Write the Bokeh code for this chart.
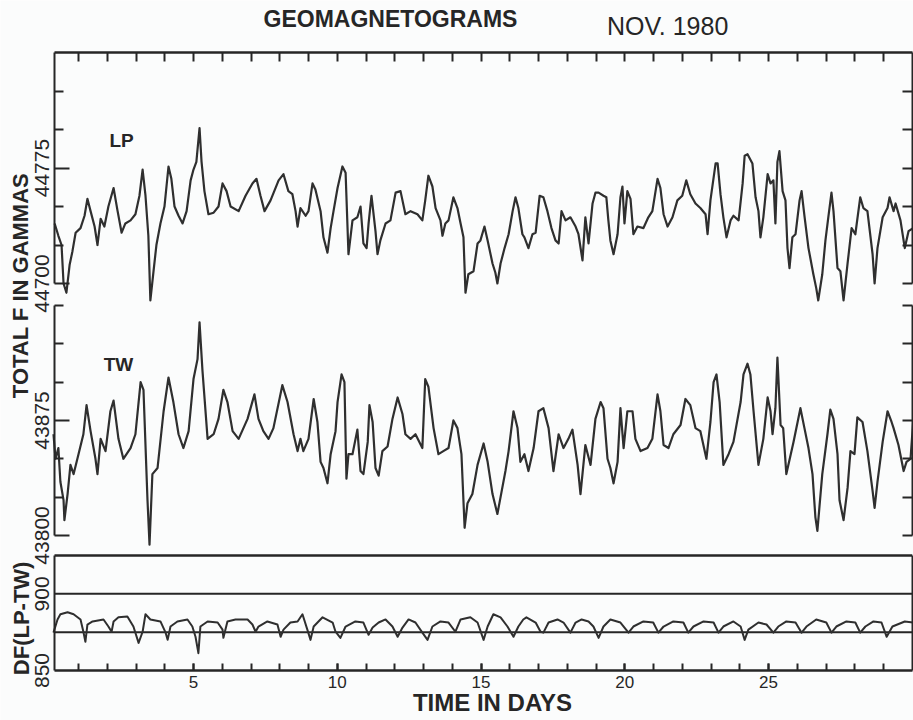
import math
from bokeh.plotting import figure
from bokeh.models import Range1d, LinearAxis, FixedTicker, Label
from bokeh.embed import file_html
from bokeh.resources import INLINE

# ---------------- data (Nov. 1980) ----------------
LP_DAY = [0.17, 0.30, 0.41, 0.48, 0.58, 0.69, 0.79, 0.90, 1.07, 1.21,
          1.31, 1.42, 1.56, 1.66, 1.77, 1.90, 2.04, 2.22, 2.36, 2.50,
          2.63, 2.81, 2.98, 3.12, 3.23, 3.33, 3.43, 3.50, 3.61, 3.71,
          3.85, 3.99, 4.13, 4.23, 4.34, 4.48, 4.62, 4.76, 4.90, 5.00,
          5.10, 5.21, 5.28, 5.38, 5.52, 5.70, 5.87, 6.01, 6.15, 6.29,
          6.57, 6.81, 7.05, 7.19, 7.33, 7.47, 7.68, 7.96, 8.13, 8.30,
          8.44, 8.55, 8.62, 8.72, 8.90, 9.00, 9.14, 9.24, 9.42, 9.52,
          9.66, 9.77, 9.87, 10.01, 10.18, 10.29, 10.39, 10.53, 10.70, 10.81,
          10.91, 11.02, 11.09, 11.19, 11.33, 11.40, 11.50, 11.68, 11.85, 12.03,
          12.20, 12.37, 12.55, 12.79, 12.96, 13.06, 13.17, 13.31, 13.42, 13.59,
          13.66, 13.76, 13.87, 14.04, 14.18, 14.29, 14.39, 14.46, 14.56, 14.74,
          14.88, 14.98, 15.12, 15.23, 15.40, 15.50, 15.57, 15.68, 15.82, 15.96,
          16.10, 16.20, 16.30, 16.44, 16.51, 16.65, 16.79, 16.90, 17.04, 17.17,
          17.31, 17.45, 17.59, 17.70, 17.80, 17.94, 18.11, 18.29, 18.39, 18.53,
          18.63, 18.74, 18.88, 18.98, 19.09, 19.26, 19.36, 19.43, 19.50, 19.61,
          19.75, 19.85, 19.92, 19.99, 20.09, 20.20, 20.30, 20.44, 20.65, 20.82,
          20.96, 21.14, 21.24, 21.35, 21.49, 21.66, 21.83, 22.00, 22.14, 22.28,
          22.46, 22.63, 22.81, 22.88, 22.98, 23.16, 23.23, 23.33, 23.43, 23.54,
          23.68, 23.78, 23.96, 24.10, 24.17, 24.27, 24.44, 24.55, 24.65, 24.72,
          24.82, 24.97, 25.07, 25.17, 25.24, 25.31, 25.38, 25.49, 25.59, 25.66,
          25.73, 25.83, 25.94, 26.08, 26.15, 26.25, 26.39, 26.56, 26.66, 26.73,
          26.87, 26.98, 27.08, 27.19, 27.26, 27.40, 27.50, 27.61, 27.75, 27.89,
          28.02, 28.19, 28.30, 28.44, 28.62, 28.69, 28.79, 28.97, 29.14, 29.21,
          29.35, 29.42, 29.59, 29.74, 29.87, 30.03]
LP_F = [44739, 44731, 44725, 44700, 44694, 44712, 44721, 44733, 44736, 44744,
        44755, 44747, 44737, 44725, 44742, 44737, 44750, 44762, 44747, 44733,
        44739, 44741, 44745, 44757, 44774, 44757, 44731, 44689, 44708, 44725,
        44739, 44750, 44776, 44768, 44750, 44744, 44739, 44747, 44767, 44774,
        44779, 44801, 44779, 44760, 44745, 44746, 44750, 44765, 44760, 44750,
        44747, 44757, 44765, 44768, 44757, 44747, 44754, 44767, 44771, 44760,
        44758, 44747, 44737, 44749, 44744, 44747, 44765, 44761, 44747, 44730,
        44720, 44736, 44747, 44762, 44776, 44772, 44719, 44741, 44743, 44750,
        44726, 44723, 44739, 44757, 44734, 44719, 44728, 44739, 44741, 44759,
        44760, 44745, 44747, 44745, 44741, 44754, 44770, 44763, 44749, 44741,
        44731, 44739, 44741, 44756, 44749, 44739, 44730, 44694, 44706, 44708,
        44726, 44728, 44737, 44728, 44713, 44707, 44700, 44713, 44723, 44732,
        44747, 44756, 44749, 44732, 44730, 44723, 44732, 44733, 44757, 44756,
        44747, 44736, 44728, 44726, 44747, 44741, 44743, 44737, 44732, 44715,
        44743, 44726, 44752, 44759, 44759, 44757, 44756, 44741, 44728, 44719,
        44732, 44756, 44763, 44739, 44760, 44755, 44732, 44737, 44736, 44743,
        44747, 44768, 44762, 44745, 44737, 44743, 44754, 44757, 44767, 44758,
        44752, 44749, 44745, 44732, 44754, 44778, 44778, 44758, 44743, 44730,
        44741, 44744, 44741, 44765, 44783, 44784, 44778, 44756, 44747, 44730,
        44743, 44771, 44765, 44767, 44739, 44779, 44786, 44760, 44754, 44723,
        44710, 44730, 44732, 44754, 44760, 44744, 44723, 44706, 44697, 44689,
        44706, 44728, 44743, 44759, 44747, 44710, 44708, 44689, 44713, 44736,
        44732, 44756, 44749, 44747, 44719, 44700, 44723, 44743, 44749, 44756,
        44747, 44752, 44741, 44723, 44734, 44736]

TW_DAY = [0.13, 0.20, 0.30, 0.37, 0.48, 0.51, 0.62, 0.72, 0.83, 1.00,
          1.17, 1.28, 1.42, 1.59, 1.66, 1.77, 1.94, 2.11, 2.22, 2.39,
          2.56, 2.81, 2.98, 3.16, 3.26, 3.40, 3.47, 3.57, 3.75, 3.96,
          4.13, 4.30, 4.48, 4.65, 4.83, 5.00, 5.14, 5.21, 5.31, 5.49,
          5.70, 5.87, 6.04, 6.18, 6.36, 6.57, 6.88, 7.12, 7.26, 7.43,
          7.61, 7.78, 8.09, 8.27, 8.48, 8.62, 8.72, 8.82, 9.00, 9.18,
          9.31, 9.42, 9.52, 9.66, 9.77, 9.94, 10.01, 10.15, 10.25, 10.32,
          10.39, 10.53, 10.70, 10.81, 10.91, 11.06, 11.12, 11.23, 11.33, 11.44,
          11.57, 11.75, 11.92, 12.10, 12.27, 12.37, 12.55, 12.72, 12.96, 13.06,
          13.17, 13.35, 13.52, 13.69, 13.87, 14.04, 14.18, 14.32, 14.43, 14.53,
          14.70, 14.88, 15.09, 15.23, 15.40, 15.57, 15.68, 15.85, 15.96, 16.13,
          16.27, 16.37, 16.51, 16.65, 16.83, 17.00, 17.17, 17.35, 17.52, 17.70,
          17.87, 18.04, 18.18, 18.36, 18.46, 18.63, 18.81, 18.98, 19.16, 19.26,
          19.40, 19.50, 19.61, 19.75, 19.85, 19.96, 20.09, 20.27, 20.37, 20.55,
          20.79, 20.96, 21.14, 21.24, 21.35, 21.52, 21.69, 21.94, 22.11, 22.28,
          22.46, 22.63, 22.84, 22.98, 23.09, 23.19, 23.30, 23.43, 23.61, 23.78,
          24.03, 24.13, 24.27, 24.37, 24.48, 24.65, 24.82, 24.97, 25.07, 25.14,
          25.24, 25.31, 25.42, 25.51, 25.62, 25.69, 25.87, 26.11, 26.25, 26.39,
          26.53, 26.63, 26.70, 26.87, 27.05, 27.15, 27.26, 27.40, 27.47, 27.61,
          27.75, 27.85, 27.99, 28.09, 28.27, 28.44, 28.62, 28.69, 28.79, 28.97,
          29.14, 29.28, 29.35, 29.52, 29.70, 29.80, 29.94, 30.05]
TW_F = [43866, 43850, 43857, 43835, 43823, 43810, 43827, 43846, 43840, 43853,
        43866, 43885, 43868, 43850, 43840, 43863, 43855, 43881, 43888, 43863,
        43850, 43857, 43866, 43900, 43895, 43823, 43794, 43840, 43844, 43881,
        43903, 43887, 43866, 43857, 43868, 43902, 43915, 43939, 43908, 43863,
        43866, 43876, 43895, 43887, 43868, 43863, 43876, 43892, 43876, 43868,
        43863, 43870, 43898, 43887, 43866, 43855, 43863, 43855, 43863, 43889,
        43874, 43848, 43844, 43834, 43853, 43868, 43887, 43905, 43900, 43837,
        43853, 43853, 43869, 43842, 43840, 43861, 43885, 43874, 43844, 43839,
        43855, 43858, 43876, 43890, 43879, 43866, 43863, 43866, 43857, 43902,
        43897, 43870, 43853, 43855, 43857, 43875, 43870, 43853, 43805, 43821,
        43827, 43846, 43860, 43848, 43827, 43814, 43825, 43842, 43855, 43881,
        43870, 43848, 43853, 43842, 43857, 43881, 43883, 43870, 43842, 43866,
        43857, 43863, 43869, 43846, 43827, 43859, 43846, 43876, 43887, 43883,
        43850, 43844, 43834, 43848, 43883, 43857, 43881, 43881, 43863, 43855,
        43857, 43863, 43892, 43881, 43859, 43857, 43866, 43872, 43889, 43885,
        43870, 43868, 43850, 43874, 43900, 43905, 43887, 43846, 43853, 43861,
        43887, 43905, 43912, 43905, 43881, 43846, 43863, 43890, 43881, 43866,
        43883, 43916, 43872, 43870, 43840, 43846, 43861, 43883, 43870, 43857,
        43840, 43812, 43803, 43840, 43866, 43882, 43876, 43853, 43823, 43810,
        43831, 43855, 43853, 43877, 43874, 43855, 43829, 43818, 43835, 43861,
        43881, 43874, 43870, 43859, 43842, 43848, 43850, 43879]

DF_DAY = [0.13, 0.27, 0.37, 0.62, 0.83, 1.07, 1.17, 1.24, 1.31, 1.49,
          1.87, 2.04, 2.15, 2.22, 2.39, 2.70, 2.91, 3.09, 3.23, 3.33,
          3.50, 3.85, 4.03, 4.10, 4.20, 4.44, 4.79, 4.96, 5.07, 5.17,
          5.24, 5.49, 5.84, 6.01, 6.04, 6.18, 6.46, 6.88, 7.05, 7.16,
          7.26, 7.57, 7.92, 8.03, 8.13, 8.37, 8.62, 8.79, 8.96, 9.07,
          9.18, 9.49, 9.84, 9.94, 10.11, 10.29, 10.63, 10.91, 11.09, 11.23,
          11.44, 11.68, 11.92, 12.10, 12.27, 12.48, 12.72, 12.96, 13.14, 13.31,
          13.59, 13.87, 14.11, 14.29, 14.63, 14.88, 15.09, 15.23, 15.43, 15.68,
          15.92, 16.13, 16.30, 16.47, 16.58, 16.90, 17.07, 17.17, 17.35, 17.66,
          17.87, 18.11, 18.29, 18.50, 18.74, 18.91, 19.09, 19.26, 19.50, 19.85,
          20.13, 20.30, 20.65, 20.99, 21.17, 21.35, 21.69, 22.04, 22.21, 22.39,
          22.74, 23.09, 23.26, 23.43, 23.78, 24.03, 24.17, 24.30, 24.65, 24.93,
          25.17, 25.34, 25.62, 25.94, 26.15, 26.32, 26.66, 27.01, 27.19, 27.36,
          27.71, 28.02, 28.19, 28.37, 28.65, 28.93, 29.11, 29.31, 29.74, 30.05]
DF_VAL = [874.7, 883.3, 886.7, 888.0, 886.7, 883.3, 875.3, 868.7, 880.0, 882.0,
          883.3, 878.7, 875.3, 882.0, 884.7, 885.3, 878.7, 868.0, 875.3, 886.7,
          883.3, 882.0, 874.7, 870.0, 878.7, 882.0, 883.3, 878.7, 872.0, 861.3,
          878.7, 882.0, 881.3, 876.7, 871.3, 882.0, 883.3, 883.3, 880.0, 875.3,
          878.7, 882.0, 880.0, 872.0, 876.7, 881.3, 882.0, 886.7, 876.7, 870.0,
          878.7, 884.7, 881.3, 875.3, 871.3, 878.7, 882.0, 881.3, 873.3, 878.0,
          881.3, 883.3, 878.7, 872.0, 878.0, 883.3, 881.3, 874.7, 870.0, 878.7,
          882.0, 881.3, 875.3, 883.3, 884.7, 881.3, 870.0, 878.7, 886.7, 884.7,
          878.7, 872.0, 878.7, 883.3, 884.7, 881.3, 875.3, 874.7, 881.3, 883.3,
          881.3, 874.7, 881.3, 883.3, 882.0, 878.7, 871.3, 878.7, 883.3, 881.3,
          874.7, 878.7, 882.0, 881.3, 874.7, 878.7, 882.0, 881.3, 874.7, 878.7,
          882.0, 881.3, 874.7, 878.7, 882.0, 878.7, 870.0, 876.7, 881.3, 880.0,
          874.7, 878.7, 882.0, 881.3, 874.7, 878.7, 883.3, 881.3, 874.7, 878.7,
          882.0, 881.3, 874.7, 878.7, 882.0, 881.3, 872.0, 878.7, 882.0, 881.3]

# tick values / labels
DAY_LABEL_TICKS = [5, 10, 15, 20, 25]
DAY_TICKS = list(range(1, 30))
LP_LABEL_TICKS = [44700, 44775]
LP_SMALL_TICKS = [44725, 44750, 44800, 44825]
TW_LABEL_TICKS = [43800, 43875]
TW_SMALL_TICKS = [43825, 43850, 43900, 43925, 43950]
DF_LABEL_TICKS = [850, 900]
DF_REF_LINES = [875, 900]

# panel extents (value units)
LP_BOUNDS = (44700, 44850)
TW_BOUNDS = (43800, 43950)
DF_BOUNDS = (850, 925)

# ---------------- styling ----------------
INK = "#262626"
TRACE = "#2f2f2f"
BG = "#fbfcfc"
FONT = "Liberation Sans"

# the frame covers the whole canvas; the panels sit inside it
X_START, X_END = 0.165, 30.0          # panel left / right edges (days)
X_VIEW = (-1.713, 30.043)
LP_VIEW = (44416.2, 44883.8)
TW_VIEW = (43679.3, 44148.9)
DF_VIEW = (817.4, 1287.0)

p = figure(width=913, height=720, output_backend="svg", toolbar_location=None,
           x_range=Range1d(*X_VIEW), y_range=Range1d(*LP_VIEW),
           x_axis_type=None, y_axis_type=None, min_border=0)
p.title.visible = False
p.extra_y_ranges = {"tw": Range1d(*TW_VIEW), "df": Range1d(*DF_VIEW)}
p.outline_line_color = None
p.background_fill_color = BG
p.border_fill_color = BG


def style_axis(ax, lw=2.0):
    ax.axis_line_color = INK
    ax.axis_line_width = lw
    ax.major_tick_line_color = INK
    ax.minor_tick_line_color = INK
    ax.major_tick_line_width = 2
    ax.minor_tick_line_width = 2
    ax.major_tick_out = 0
    ax.minor_tick_out = 0
    ax.major_label_text_font = FONT
    ax.major_label_text_color = INK
    return ax


def left_axis(rng, bounds, labelled, small, tick_in=15, small_in=9):
    ax = LinearAxis(y_range_name=rng, bounds=bounds, fixed_location=X_START,
                    ticker=FixedTicker(ticks=labelled, minor_ticks=small))
    style_axis(ax)
    ax.major_tick_in = tick_in
    ax.minor_tick_in = small_in
    ax.major_label_orientation = "vertical"
    ax.major_label_text_font_size = "21px"
    ax.major_label_standoff = 5
    p.add_layout(ax, "left")


def right_axis(rng, bounds, small):
    ax = LinearAxis(y_range_name=rng, bounds=bounds, fixed_location=X_END,
                    ticker=FixedTicker(ticks=[], minor_ticks=small))
    style_axis(ax)
    ax.minor_tick_in = 10
    p.add_layout(ax, "right")


left_axis("default", LP_BOUNDS, LP_LABEL_TICKS, LP_SMALL_TICKS)
left_axis("tw", TW_BOUNDS, TW_LABEL_TICKS, TW_SMALL_TICKS)
left_axis("df", DF_BOUNDS, DF_LABEL_TICKS, [], tick_in=0, small_in=0)

right_axis("default", LP_BOUNDS, LP_LABEL_TICKS + LP_SMALL_TICKS)
right_axis("tw", TW_BOUNDS, TW_LABEL_TICKS + TW_SMALL_TICKS)
right_axis("df", DF_BOUNDS, [])

top = LinearAxis(fixed_location=LP_BOUNDS[1], bounds=(X_START, X_END),
                 ticker=FixedTicker(ticks=[], minor_ticks=DAY_TICKS))
style_axis(top, lw=2.5)
top.minor_tick_in = 9
p.add_layout(top, "above")

bottom = LinearAxis(y_range_name="df", fixed_location=DF_BOUNDS[0],
                    bounds=(X_START, X_END),
                    ticker=FixedTicker(ticks=DAY_LABEL_TICKS, minor_ticks=DAY_TICKS))
style_axis(bottom, lw=2.5)
bottom.major_tick_in = 7
bottom.minor_tick_in = 7
bottom.major_label_text_font_size = "17px"
bottom.major_label_standoff = 5
p.add_layout(bottom, "below")

# reference lines in the DF panel and the panel divider
n_ref = len(DF_REF_LINES)
p.segment(x0=[X_START] * n_ref, x1=[X_END] * n_ref, y0=DF_REF_LINES,
          y1=DF_REF_LINES, y_range_name="df", line_color=INK, line_width=2)
p.segment(x0=[X_START], x1=[X_END], y0=[DF_BOUNDS[1]], y1=[DF_BOUNDS[1]],
          y_range_name="df", line_color=INK, line_width=2.5)

# traces
p.line(LP_DAY, LP_F, line_color=TRACE, line_width=2.2, line_join="round")
p.line(TW_DAY, TW_F, y_range_name="tw", line_color=TRACE, line_width=2.2,
       line_join="round")
p.line(DF_DAY, DF_VAL, y_range_name="df", line_color=TRACE, line_width=2,
       line_join="round")


# texts
def add_label(text, x, y, size, bold=True, angle=0.0, rng="default"):
    p.add_layout(Label(x=x, y=y, y_range_name=rng, text=text, angle=angle,
                       text_font=FONT, text_font_size=size,
                       text_font_style="bold" if bold else "normal",
                       text_color=INK, text_align="center",
                       text_baseline="middle"))


add_label("GEOMAGNETOGRAMS", 11.85, 44872, "23px")
add_label("NOV. 1980", 21.49, 44867.5, "25px", bold=False)
add_label("TOTAL F IN GAMMAS", -1.02, 44698.7, "22px", angle=math.pi / 2)
add_label("DF(LP-TW)", -0.98, 884, "22px", angle=math.pi / 2, rng="df")
add_label("LP", 2.50, 44793, "19px")
add_label("TW", 2.39, 43911.5, "19px", rng="tw")
add_label("TIME IN DAYS", 15.4, 829, "24px", rng="df")

open("out.html", "w").write(file_html(p, INLINE))
